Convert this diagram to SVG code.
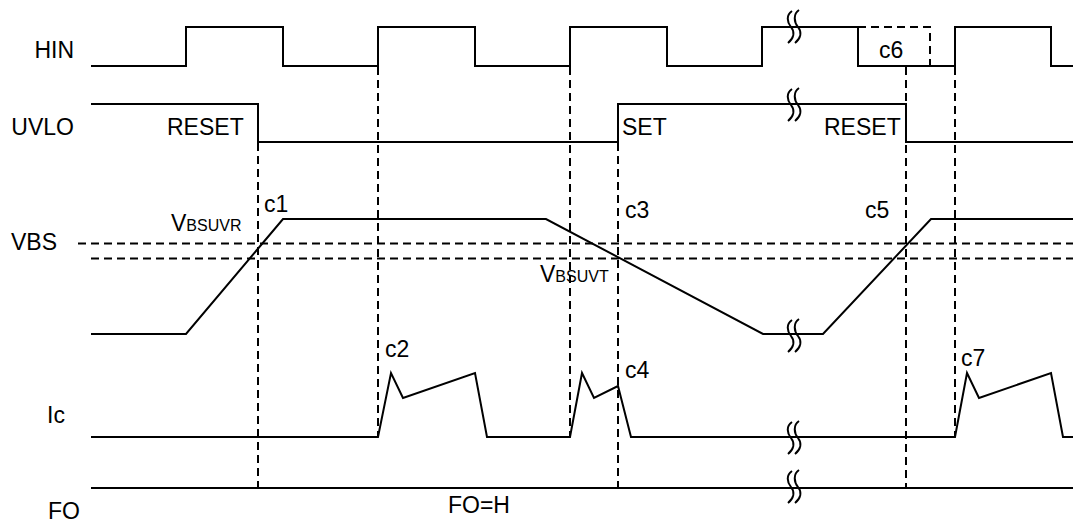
<svg xmlns="http://www.w3.org/2000/svg" width="1073" height="523" viewBox="0 0 1073 523">
<defs>
<style>
.sig{fill:none;stroke:#000;stroke-width:2;stroke-linejoin:miter}
.dash{fill:none;stroke:#000;stroke-width:2;stroke-dasharray:8,5}
.brk{fill:none;stroke:#000;stroke-width:2}
text{font-family:"Liberation Sans",Arial,sans-serif;font-size:23px;fill:#000}
.sub{font-size:16px}
</style>
<g id="breakSym">
<path d="M1,1 C-5,5 -4,12 0,17 C4,22 3,28 -3,33"/>
<path d="M8,0 C2,4 3,12 7,17 C11,22 10,28 4,33"/>
</g>
</defs>
<rect width="1073" height="523" fill="#fff"/>

<g id="labels">
<text x="74" y="58" text-anchor="end">HIN</text>
<text x="74" y="135" text-anchor="end">UVLO</text>
<text x="57" y="250" text-anchor="end">VBS</text>
<text x="47" y="423">Ic</text>
<text x="48" y="519">FO</text>
</g>

<g id="connectors">
<line class="dash" x1="258" y1="143" x2="258" y2="488"/>
<line class="dash" x1="378" y1="67" x2="378" y2="437"/>
<line class="dash" x1="570" y1="67" x2="570" y2="437"/>
<line class="dash" x1="618" y1="143" x2="618" y2="488"/>
<line class="dash" x1="906" y1="67" x2="906" y2="488"/>
<line class="dash" x1="955" y1="67" x2="955" y2="437"/>
<line class="dash" x1="78" y1="243.5" x2="1073" y2="243.5"/>
<line class="dash" x1="91" y1="258.5" x2="1073" y2="258.5"/>
</g>

<g id="HIN">
<polyline class="sig" points="91,66 186,66 186,27 283,27 283,66 378,66 378,27 475,27 475,66 570,66 570,27 667,27 667,66 762,66 762,27 858,27 858,66 955,66 955,27 1051,27 1051,66 1073,66"/>
<polyline class="dash" points="858,27 930,27 930,66"/>
<use href="#breakSym" x="791" y="10" class="brk"/>
<text x="879" y="58">c6</text>
</g>

<g id="UVLO">
<polyline class="sig" points="91,104 258,104 258,142 618,142 618,104 906,104 906,142 1073,142"/>
<use href="#breakSym" x="791" y="88" class="brk"/>
<text x="167" y="135">RESET</text>
<text x="622" y="135">SET</text>
<text x="824" y="135">RESET</text>
</g>

<g id="VBS">
<polyline class="sig" points="91,334 186,334 283,219 546,219 763,334 823,334 931,219 1073,219"/>
<use href="#breakSym" x="791" y="319" class="brk"/>
<text x="264" y="212">c1</text>
<text x="171" y="231">V<tspan class="sub">BSUVR</tspan></text>
<text x="625" y="218">c3</text>
<text x="540" y="282">V<tspan class="sub">BSUVT</tspan></text>
<text x="865" y="218">c5</text>
</g>

<g id="Ic">
<polyline class="sig" points="91,437 378,437 391,373 403,398 475,373 487,437 570,437 582,373 594,398 618,386 631,437 955,437 967,373 979,398 1051,373 1063,437 1073,437"/>
<use href="#breakSym" x="791" y="421" class="brk"/>
<text x="385" y="357">c2</text>
<text x="625" y="378">c4</text>
<text x="961" y="366">c7</text>
</g>

<g id="FO">
<line class="sig" x1="91" y1="488" x2="1073" y2="488"/>
<use href="#breakSym" x="791" y="470" class="brk"/>
<text x="448" y="513">FO=H</text>
</g>
</svg>
